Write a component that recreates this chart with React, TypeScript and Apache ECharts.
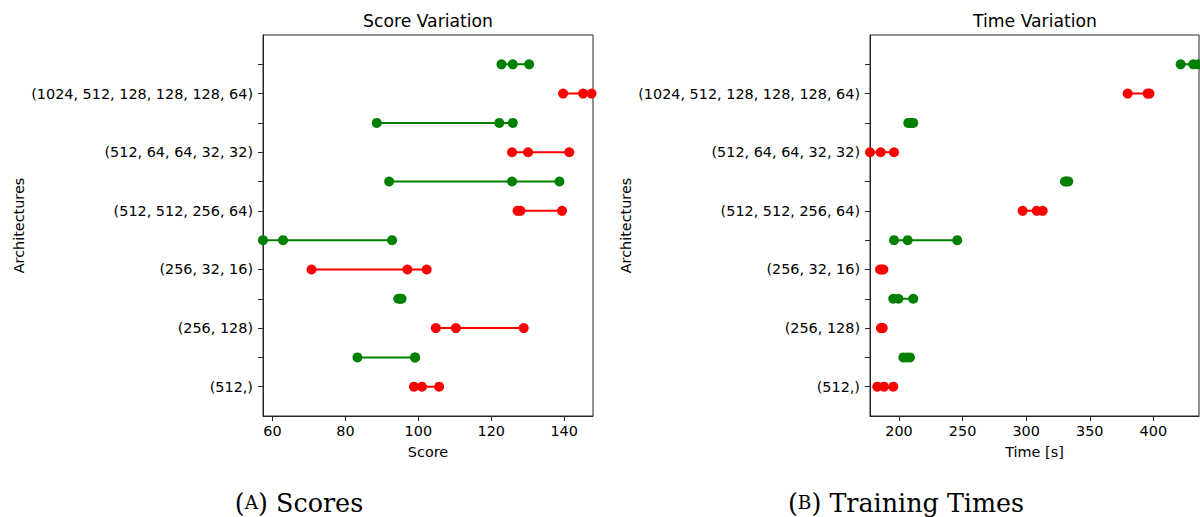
import React, { useEffect, useRef } from "react";
import * as echarts from "echarts";

const architectures = [
  "(512,)",
  "(256, 128)",
  "(256, 32, 16)",
  "(512, 512, 256, 64)",
  "(512, 64, 64, 32, 32)",
  "(1024, 512, 128, 128, 128, 64)",
];

// red: labelled rows (0,2,4,...), green: the row just above (1,3,5,...)
const scoreRed = [
  [98.8, 101.0, 105.7],
  [104.8, 110.3, 128.9],
  [70.7, 97.0, 102.3],
  [127.2, 128.0, 139.4],
  [125.7, 130.1, 141.4],
  [139.7, 145.2, 147.5],
];
const scoreGreen = [
  [83.3, 99.1, 99.1],
  [94.5, 95.0, 95.4],
  [57.4, 62.9, 92.8],
  [92.0, 125.7, 138.7],
  [88.6, 122.2, 125.9],
  [122.8, 125.9, 130.4],
];
const timeRed = [
  [182.9, 188.2, 195.5],
  [185.8, 186.5, 187.2],
  [185.1, 186.4, 187.7],
  [297.2, 308.3, 313.0],
  [177.2, 185.6, 196.1],
  [379.8, 395.5, 397.0],
];
const timeGreen = [
  [203.4, 206.0, 208.6],
  [195.5, 199.5, 211.2],
  [196.1, 206.8, 245.8],
  [330.5, 331.8, 333.1],
  [207.3, 209.2, 211.2],
  [421.5, 431.4, 435.3],
];

const scoreTicks = [60, 80, 100, 120, 140];
const timeTicks = [200, 250, 300, 350, 400];
const rowTicks = [0, 1, 2, 3, 4, 5, 6, 7, 8, 9, 10, 11];
const labelRows = [0, 2, 4, 6, 8, 10];

const RED = "#ff0000";
const GREEN = "#008000";
const AX = "#262626";
const FONT = "DejaVu Sans";
const FS = 14.4;

function rowSeries(values: number[][], offset: number, color: string, axisIndex: number) {
  return values.map((vals, i) => ({
    type: "line",
    xAxisIndex: axisIndex,
    yAxisIndex: axisIndex,
    data: [...vals].sort((a, b) => a - b).map((v) => [v, i * 2 + offset]),
    symbol: "circle",
    symbolSize: 10,
    showSymbol: true,
    clip: false,
    lineStyle: { color, width: 2 },
    itemStyle: { color, opacity: 1 },
    z: 3,
  }));
}

function xAxis(gridIndex: number, min: number, max: number, ticks: number[], name: string) {
  return {
    type: "value",
    gridIndex,
    min,
    max,
    splitLine: { show: false },
    axisLine: { show: true, onZero: false, lineStyle: { color: AX, width: 1 } },
    axisTick: { show: true, length: 5, customValues: ticks, lineStyle: { color: AX } },
    axisLabel: { customValues: ticks, margin: 8, fontSize: FS, color: "#000", fontFamily: FONT },
    name,
    nameLocation: "middle",
    nameGap: 29,
    nameTextStyle: { fontSize: FS, color: "#000", fontFamily: FONT },
  };
}

function yAxis(gridIndex: number) {
  return {
    type: "value",
    gridIndex,
    min: -1,
    max: 12,
    splitLine: { show: false },
    axisLine: { show: true, onZero: false, lineStyle: { color: AX, width: 1 } },
    axisTick: { show: true, length: 5, customValues: rowTicks, lineStyle: { color: AX } },
    axisLabel: {
      customValues: labelRows,
      margin: 10,
      fontSize: FS,
      color: "#000",
      fontFamily: FONT,
      formatter: (v: number) => architectures[Math.round(v / 2)] ?? "",
    },
    name: "Architectures",
    nameLocation: "middle",
    nameRotate: 90,
    nameGap: 237,
    nameTextStyle: { fontSize: FS, color: "#000", fontFamily: FONT },
  };
}

function caption(x: number, letter: string, rest: string) {
  return {
    type: "text",
    x,
    y: 503,
    style: {
      text: "(" + "{sc|" + letter + "}" + ") " + rest,
      font: "25.4px 'DejaVu Serif'",
      fill: "#000",
      align: "center",
      verticalAlign: "middle",
      rich: {
        sc: { fontSize: 18.5, fontFamily: "DejaVu Serif", fill: "#000", padding: [0, 0, 1, 0] },
      },
    },
  };
}

export default function App() {
  const ref = useRef<HTMLDivElement>(null);
  useEffect(() => {
    if (!ref.current) return;
    const chart = echarts.init(ref.current, undefined, { renderer: "svg" });
    chart.setOption({
      animation: false,
      backgroundColor: "#ffffff",
      grid: [
        { left: 263, top: 35, width: 330, height: 381, show: true, borderColor: AX, borderWidth: 1 },
        { left: 870, top: 35, width: 329, height: 381, show: true, borderColor: AX, borderWidth: 1 },
      ],
      xAxis: [
        xAxis(0, 57.4, 147.9, scoreTicks, "Score"),
        xAxis(1, 177.2, 435.9, timeTicks, "Time [s]"),
      ],
      yAxis: [yAxis(0), yAxis(1)],
      series: [
        ...rowSeries(scoreRed, 0, RED, 0),
        ...rowSeries(scoreGreen, 1, GREEN, 0),
        ...rowSeries(timeRed, 0, RED, 1),
        ...rowSeries(timeGreen, 1, GREEN, 1),
      ],
      graphic: [
        {
          type: "text",
          x: 428,
          y: 21,
          style: { text: "Score Variation", font: "17.2px 'DejaVu Sans'", fill: "#000", align: "center", verticalAlign: "middle" },
        },
        {
          type: "text",
          x: 1035,
          y: 21,
          style: { text: "Time Variation", font: "17.2px 'DejaVu Sans'", fill: "#000", align: "center", verticalAlign: "middle" },
        },
        caption(299, "A", "Scores"),
        caption(906, "B", "Training Times"),
      ],
    });
    return () => chart.dispose();
  }, []);
  return (
    <div
      ref={ref}
      style={{ position: "absolute", left: 0, top: 0, width: 1200, height: 517 }}
    />
  );
}
